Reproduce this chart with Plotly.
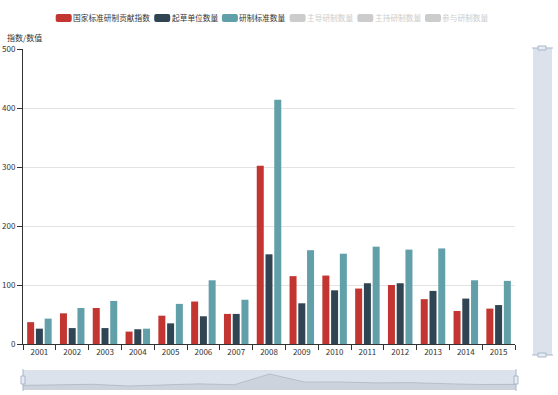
import plotly.graph_objects as go

YEARS = ["2001", "2002", "2003", "2004", "2005", "2006", "2007", "2008",
         "2009", "2010", "2011", "2012", "2013", "2014", "2015"]
CONTRIB_INDEX = [37, 52, 61, 21, 48, 72, 51, 302, 115, 116, 94, 100, 76, 56, 60]
DRAFT_UNITS = [26, 27, 27, 25, 35, 47, 51, 152, 69, 91, 103, 103, 90, 77, 66]
STD_COUNT = [43, 61, 73, 26, 68, 108, 75, 414, 159, 153, 165, 160, 162, 108, 107]
SERIES_NAMES = ["国家标准研制贡献指数", "起草单位数量", "研制标准数量",
                "主导研制数量", "主持研制数量", "参与研制数量"]
SERIES_SHOWN = [True, True, True, False, False, False]
Y_TITLE = "指数/数值"

W, H = 558, 395
# plot area in page pixels: x 23..552, y 45..392
L, R, T, B = 23, 558 - 552, 45, 395 - 392
PW, PH = W - L - R, H - T - B


def px(x):  # page pixel -> paper
    return (x - L) / PW


def py(y):
    return (H - B - y) / PH


FONT = "Noto Sans CJK SC, Microsoft YaHei, sans-serif"
COLORS = ["#c23531", "#2f4554", "#61a0a8", "#ccc", "#ccc", "#ccc"]

fig = go.Figure()
for name, vals, col in zip(SERIES_NAMES[:3], [CONTRIB_INDEX, DRAFT_UNITS, STD_COUNT], COLORS):
    fig.add_trace(go.Bar(x=YEARS, y=vals, name=name, marker=dict(color=col, line=dict(width=0)),
                         xaxis="x", yaxis="y", showlegend=False))

# data-zoom shadow (first series)
Y2_MIN, Y2_MAX = -73, 395
fig.add_trace(go.Scatter(x=list(range(len(YEARS))), y=[Y2_MIN] * len(YEARS), xaxis="x2", yaxis="y2",
                         mode="lines", line=dict(width=0), showlegend=False, hoverinfo="skip"))
fig.add_trace(go.Scatter(x=list(range(len(YEARS))), y=CONTRIB_INDEX, xaxis="x2", yaxis="y2",
                         mode="lines", fill="tonexty", fillcolor="rgba(47,69,84,0.09)",
                         line=dict(color="rgba(47,69,84,0.3)", width=0.6), showlegend=False,
                         hoverinfo="skip"))

shapes = []
annotations = []
filler = "rgba(167,183,204,0.4)"
handle_line = "#a7b7cc"
# horizontal slider
shapes.append(dict(type="rect", xref="paper", yref="paper", x0=px(23), x1=px(516), y0=py(390), y1=py(370),
                   fillcolor=filler, line=dict(width=0), layer="below"))
for hx in (23, 516):
    shapes.append(dict(type="line", xref="paper", yref="paper", x0=px(hx), x1=px(hx), y0=py(391), y1=py(369),
                       line=dict(color=handle_line, width=1)))
    shapes.append(dict(type="rect", xref="paper", yref="paper", x0=px(hx - 2), x1=px(hx + 2), y0=py(384),
                       y1=py(376), fillcolor="#e8ecf2", line=dict(color=handle_line, width=1)))
# vertical slider
shapes.append(dict(type="rect", xref="paper", yref="paper", x0=px(533), x1=px(552), y0=py(355), y1=py(48),
                   fillcolor=filler, line=dict(width=0), layer="below"))
for hy in (48, 355):
    shapes.append(dict(type="line", xref="paper", yref="paper", x0=px(532), x1=px(553), y0=py(hy), y1=py(hy),
                       line=dict(color=handle_line, width=1)))
    shapes.append(dict(type="rect", xref="paper", yref="paper", x0=px(538), x1=px(546), y0=py(hy + 2),
                       y1=py(hy - 2), fillcolor="#e8ecf2", line=dict(color=handle_line, width=1)))

# legend (ECharts-style, rounded icons)
CHAR_W = 7.7
ICON_W, ICON_H, ICON_GAP, ITEM_GAP = 16, 8, 2.5, 3
LEG_Y = 18
lx = 55.7
for name, col, shown in zip(SERIES_NAMES, COLORS, SERIES_SHOWN):
    x0, x1 = lx, lx + ICON_W
    y0, y1 = LEG_Y - ICON_H / 2, LEG_Y + ICON_H / 2
    r = 2
    X0, X1, Y0, Y1 = px(x0), px(x1), py(y1), py(y0)
    rx, ry = r / PW, r / PH
    path = (f"M{X0 + rx},{Y0} L{X1 - rx},{Y0} Q{X1},{Y0} {X1},{Y0 + ry} L{X1},{Y1 - ry} "
            f"Q{X1},{Y1} {X1 - rx},{Y1} L{X0 + rx},{Y1} Q{X0},{Y1} {X0},{Y1 - ry} L{X0},{Y0 + ry} "
            f"Q{X0},{Y0} {X0 + rx},{Y0} Z")
    shapes.append(dict(type="path", xref="paper", yref="paper", path=path, fillcolor=col,
                       line=dict(width=0)))
    tx = x1 + ICON_GAP
    annotations.append(dict(text=name, xref="paper", yref="paper", x=px(tx), y=py(LEG_Y), xanchor="left",
                            yanchor="middle", showarrow=False, xshift=-2, borderpad=0,
                            font=dict(size=CHAR_W, color="#333" if shown else "#ccc")))
    lx = tx + len(name) * CHAR_W + ITEM_GAP

annotations.append(dict(text=Y_TITLE, xref="paper", yref="paper", x=px(5), y=py(37), xanchor="left",
                        yanchor="middle", showarrow=False, font=dict(size=8, color="#333")))

fig.update_layout(
    width=W, height=H,
    margin=dict(l=L, r=R, t=T, b=B, autoexpand=False),
    paper_bgcolor="white", plot_bgcolor="white",
    font=dict(family=FONT, size=8, color="#333"),
    barmode="group", bargap=0.2, bargroupgap=0.2,
    showlegend=False,
    xaxis=dict(domain=[px(23), px(515)], type="category", showline=True, linecolor="#333", linewidth=1,
               ticks="outside", tickson="boundaries", ticklen=5, tickcolor="#333", showgrid=False,
               tickfont=dict(size=8, color="#333"), fixedrange=True, automargin=False),
    yaxis=dict(domain=[py(344), py(49)], range=[0, 500], dtick=100, showline=True, linecolor="#333",
               linewidth=1, ticks="outside", ticklen=5, tickcolor="#333", showgrid=True,
               gridcolor="#e3e3e3", zeroline=False, tickfont=dict(size=8, color="#333"), fixedrange=True,
               automargin=False),
    xaxis2=dict(domain=[px(23), px(516)], anchor="y2", range=[0, len(YEARS) - 1], visible=False,
                fixedrange=True),
    yaxis2=dict(domain=[py(390), py(370)], anchor="x2", range=[Y2_MIN, Y2_MAX], visible=False,
                fixedrange=True),
    shapes=shapes,
    annotations=annotations,
)

fig.write_html("out.html", config={"displayModeBar": False},
               post_script="document.body.style.margin='0';document.body.style.overflow='hidden';")
